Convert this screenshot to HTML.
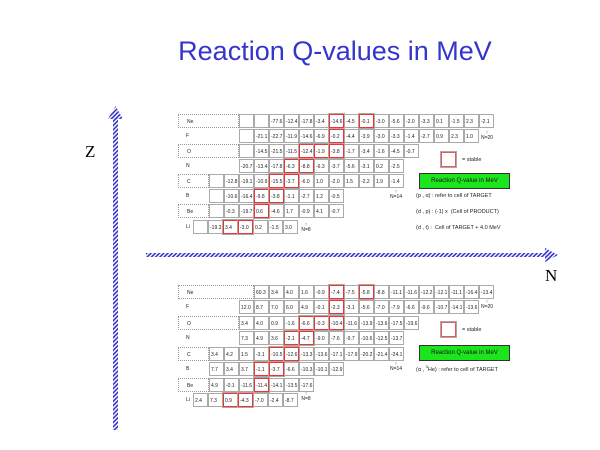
<!DOCTYPE html>
<html><head><meta charset="utf-8"><style>
body{margin:0;width:600px;height:450px;background:#fff;position:relative;overflow:hidden;font-family:"Liberation Sans",sans-serif}
.t{position:absolute;left:0;width:670px;top:36px;text-align:center;font-size:27px;color:#3535cc}
.row{position:absolute;display:flex;height:14px}
.row i,.row b{display:block;box-sizing:border-box;width:15px;height:14px;border:1px solid #aaa;font-style:normal;font-weight:normal;font-size:5px;line-height:5px;padding-top:5px;padding-left:1px;color:#222;background:#fff;margin-right:0}
.row b{border:1px solid #e33;outline:1px solid #aaa}
.lb{position:absolute;height:14px;box-sizing:border-box;font-size:5px;line-height:14px;padding-left:8px;color:#222}
.d{border:1px dotted #999}
.tx{position:absolute;font-size:5.5px;color:#222;white-space:nowrap}
.gr{position:absolute;background:#1de51d;border:1px solid #333;box-sizing:border-box;font-size:6px;text-align:center;line-height:14px;color:#111}
.st{position:absolute;width:15px;height:15px;border:1px solid #e55;outline:1px solid #aaa;box-sizing:border-box}
.ar{position:absolute;font-size:5px;text-align:center;line-height:5px;color:#222}
</style></head><body>
<div class="t">Reaction Q-values in MeV</div>
<svg width="600" height="450" style="position:absolute;left:0;top:0">
<defs><pattern id="h" width="3" height="3" patternUnits="userSpaceOnUse" patternTransform="rotate(45)"><rect width="1.6" height="3" fill="#3333cc"/></pattern></defs>
<rect x="113" y="118" width="5" height="312" fill="url(#h)"/>
<polygon points="108,119 115.5,106 123,119" fill="url(#h)"/>
<rect x="146" y="253" width="400" height="4" fill="url(#h)"/>
<polygon points="545,248 558,255 545,262" fill="url(#h)"/>
<text x="85" y="157" font-family="Liberation Serif" font-size="17">Z</text>
<text x="545" y="281" font-family="Liberation Serif" font-size="17">N</text>
</svg>

<!-- TOP TABLE -->
<div class="lb d" style="left:178px;top:114px;width:61px">Ne</div>
<div class="row" style="left:239px;top:114px"><i></i><i></i><i>-77.6</i><i>-12.4</i><i>-17.8</i><i>-3.4</i><b>-14.6</b><i>-4.5</i><b>-0.1</b><i>-3.0</i><i>-5.6</i><i>-2.0</i><i>-3.3</i><i>0.1</i><i>-1.5</i><i>2.3</i><i>-2.1</i></div>
<div class="lb" style="left:178px;top:129px;width:61px">F</div>
<div class="row" style="left:239px;top:129px"><i></i><i>-21.1</i><i>-22.7</i><i>-11.9</i><i>-14.6</i><i>-6.9</i><b>-0.2</b><i>-4.4</i><i>-3.9</i><i>-3.0</i><i>-3.3</i><i>-1.4</i><i>-2.7</i><i>0.9</i><i>2.3</i><i>1.0</i></div>
<div class="lb d" style="left:178px;top:144px;width:61px">O</div>
<div class="row" style="left:239px;top:144px"><i></i><i>-14.5</i><i>-21.5</i><i>-11.5</i><b>-12.4</b><b>-1.9</b><b>-3.8</b><i>-1.7</i><i>-3.4</i><i>-1.6</i><i>-4.5</i><i>-0.7</i></div>
<div class="lb" style="left:178px;top:159px;width:61px">N</div>
<div class="row" style="left:239px;top:159px"><i>-20.7</i><i>-13.4</i><i>-17.8</i><b>-6.3</b><b>-8.8</b><i>-6.3</i><i>-3.7</i><i>-5.6</i><i>-3.1</i><i>0.2</i><i>-2.5</i></div>
<div class="lb d" style="left:178px;top:174px;width:31px">C</div>
<div class="row" style="left:209px;top:174px"><i></i><i>-12.8</i><i>-19.1</i><i>-10.9</i><b>-15.5</b><b>-3.7</b><i>-6.0</i><i>1.0</i><i>-2.0</i><i>1.5</i><i>-2.2</i><i>1.9</i><i>-1.4</i></div>
<div class="lb" style="left:178px;top:189px;width:31px">B</div>
<div class="row" style="left:209px;top:189px"><i></i><i>-10.6</i><i>-16.4</i><b>-9.8</b><b>-3.8</b><i>-1.1</i><i>-2.7</i><i>1.2</i><i>-0.5</i></div>
<div class="lb d" style="left:178px;top:204px;width:31px">Be</div>
<div class="row" style="left:209px;top:204px"><i></i><i>-0.3</i><i>-19.7</i><b>0.6</b><i>-4.6</i><i>1.7</i><i>-0.9</i><i>4.1</i><i>-0.7</i></div>
<div class="lb" style="left:178px;top:220px;width:15px">Li</div>
<div class="row" style="left:193px;top:220px"><i></i><i>-19.3</i><b>3.4</b><b>-3.0</b><i>0.2</i><i>-1.5</i><i>3.0</i></div>

<div class="ar" style="left:480px;top:131px;width:14px">↑<br>N=20</div>
<div class="ar" style="left:389px;top:190px;width:14px">↑<br>N=14</div>
<div class="ar" style="left:299px;top:223px;width:14px">↑<br>N=8</div>
<div class="st" style="left:441px;top:152px"></div>
<div class="tx" style="left:462px;top:157px">= stable</div>
<div class="gr" style="left:419px;top:173px;width:91px;height:16px">Reaction Q-value in MeV</div>
<div class="tx" style="left:416px;top:193px">(p , α) : refer to cell of TARGET</div>
<div class="tx" style="left:416px;top:209px">(d , p) : (-1) x &nbsp;(Cell of PRODUCT)</div>
<div class="tx" style="left:416px;top:225px">(d , t) : &nbsp;Cell of TARGET + 4.0 MeV</div>

<!-- BOTTOM TABLE -->
<div class="lb d" style="left:178px;top:285px;width:76px">Ne</div>
<div class="row" style="left:254px;top:285px"><i>60.3</i><i>3.4</i><i>4.0</i><i>1.6</i><i>-0.9</i><b>-7.4</b><i>-7.5</i><b>-5.8</b><i>-8.8</i><i>-11.1</i><i>-11.6</i><i>-12.2</i><i>-12.1</i><i>-11.1</i><i>-16.4</i><i>-13.4</i></div>
<div class="lb" style="left:178px;top:300px;width:61px">F</div>
<div class="row" style="left:239px;top:300px"><i>12.0</i><i>8.7</i><i>7.0</i><i>6.0</i><i>4.9</i><i>-0.1</i><b>-2.3</b><i>-3.1</i><i>-5.6</i><i>-7.0</i><i>-7.9</i><i>-6.6</i><i>-9.6</i><i>-10.7</i><i>-14.1</i><i>-13.6</i></div>
<div class="lb d" style="left:178px;top:316px;width:61px">O</div>
<div class="row" style="left:239px;top:316px"><i>3.4</i><i>4.0</i><i>0.9</i><i>-1.6</i><b>-6.6</b><b>-0.3</b><b>-10.4</b><i>-11.6</i><i>-13.9</i><i>-13.6</i><i>-17.5</i><i>-19.6</i></div>
<div class="lb" style="left:178px;top:331px;width:61px">N</div>
<div class="row" style="left:239px;top:331px"><i>7.3</i><i>4.9</i><i>3.6</i><b>-2.1</b><b>-4.7</b><i>-9.0</i><i>-7.6</i><i>-9.7</i><i>-10.6</i><i>-12.5</i><i>-13.7</i></div>
<div class="lb d" style="left:178px;top:347px;width:31px">C</div>
<div class="row" style="left:209px;top:347px"><i>3.4</i><i>4.2</i><i>1.5</i><i>-3.1</i><b>-10.5</b><b>-12.6</b><i>-13.3</i><i>-13.6</i><i>-17.1</i><i>-17.9</i><i>-20.2</i><i>-21.4</i><i>-24.1</i></div>
<div class="lb" style="left:178px;top:362px;width:31px">B</div>
<div class="row" style="left:209px;top:362px"><i>7.7</i><i>3.4</i><i>3.7</i><b>-1.1</b><b>-3.7</b><i>-6.6</i><i>-10.3</i><i>-10.1</i><i>-12.9</i></div>
<div class="lb d" style="left:178px;top:378px;width:31px">Be</div>
<div class="row" style="left:209px;top:378px"><i>4.9</i><i>-0.1</i><i>-11.6</i><b>-11.4</b><i>-14.1</i><i>-13.5</i><i>-17.6</i></div>
<div class="lb" style="left:178px;top:393px;width:15px">Li</div>
<div class="row" style="left:193px;top:393px"><i>2.4</i><i>7.3</i><b>0.9</b><b>-4.3</b><i>-7.0</i><i>-2.4</i><i>-8.7</i></div>

<div class="ar" style="left:480px;top:300px;width:14px">↑<br>N=20</div>
<div class="ar" style="left:389px;top:362px;width:14px">↑<br>N=14</div>
<div class="ar" style="left:299px;top:392px;width:14px">↑<br>N=8</div>
<div class="st" style="left:441px;top:322px"></div>
<div class="tx" style="left:462px;top:327px">= stable</div>
<div class="gr" style="left:419px;top:345px;width:91px;height:16px">Reaction Q-value in MeV</div>
<div class="tx" style="left:416px;top:364px">(α , <sup style="font-size:4px">3</sup>He) : refer to cell of TARGET</div>
</body></html>
